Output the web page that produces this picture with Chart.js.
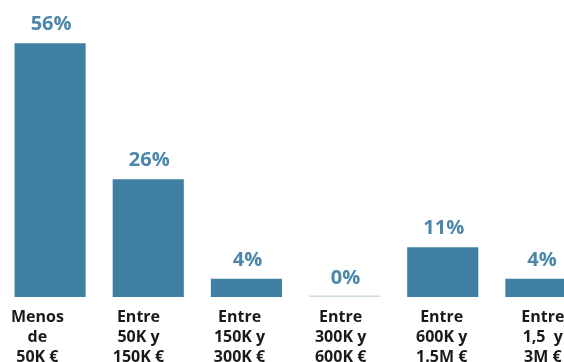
<!DOCTYPE html>
<html>
<head>
<meta charset="utf-8">
<script src="https://cdn.jsdelivr.net/npm/chart.js@4"></script>
<style>
  html, body { margin: 0; padding: 0; background: #ffffff; overflow: hidden; }
  #wrap { width: 564px; height: 362px; overflow: hidden; position: relative; }
  #box { width: 590px; height: 377px; position: absolute; left: 0; top: 0; }
</style>
</head>
<body>
<div id="wrap"><div id="box"><canvas id="c"></canvas></div></div>
<script>
// Revenue brackets (multi-line tick labels) and share of companies in each
const categories = [
  ['Menos', 'de', '50K €'],
  ['Entre', '50K y', '150K €'],
  ['Entre', '150K y', '300K €'],
  ['Entre', '300K y', '600K €'],
  ['Entre', '600K y', '1.5M €'],
  ['Entre', '1,5  y', '3M €']
];
const shares = [56, 26, 4, 0, 11, 4];
const valueLabels = ['56%', '26%', '4%', '0%', '11%', '4%'];

const BAR = '#3e7fa2';
const ZERO_BAR = '#cfdde6';
const LABEL = '#4a87ab';
const FONT = '"Open Sans", "Noto Sans", sans-serif';

// Writes each percentage above its bar
const valueLabelPlugin = {
  id: 'valueLabels',
  afterDatasetsDraw(chart) {
    const ctx = chart.ctx;
    const meta = chart.getDatasetMeta(0);
    ctx.save();
    ctx.fillStyle = LABEL;
    ctx.font = 'bold 20px ' + FONT;
    ctx.textAlign = 'center';
    ctx.textBaseline = 'alphabetic';
    meta.data.forEach((bar, i) => {
      const top = chart.scales.y.getPixelForValue(shares[i]);
      ctx.fillText(valueLabels[i], bar.x + 1, top - 13);
    });
    ctx.restore();
  }
};

new Chart(document.getElementById('c'), {
  type: 'bar',
  data: {
    labels: categories,
    datasets: [{
      data: shares,
      xAxisID: 'x',
      backgroundColor: shares.map(v => v === 0 ? ZERO_BAR : BAR),
      minBarLength: 1.5,
      categoryPercentage: 0.9,
      barPercentage: 0.805,
      borderWidth: 0
    }]
  },
  options: {
    responsive: true,
    maintainAspectRatio: false,
    animation: false,
    layout: { padding: { top: 25, left: 1, right: 0, bottom: 0 } },
    plugins: { legend: { display: false }, tooltip: { enabled: false } },
    scales: {
      // category axis that places the bars
      x: {
        display: false
      },
      // label axis: one tick per bracket, spread slightly wider than the bars
      labelAxis: {
        type: 'linear',
        position: 'bottom',
        offset: false,
        bounds: 'data',
        min: -0.36,
        max: 5.467,
        afterBuildTicks(scale) {
          scale.ticks = categories.map((_, i) => ({ value: i }));
        },
        grid: { display: false, drawTicks: false, offset: false },
        border: { display: false },
        ticks: {
          color: '#1a1a1a',
          font: { family: FONT, size: 16, weight: 'bold', lineHeight: 1.25 },
          padding: 10,
          maxRotation: 0,
          autoSkip: false,
          includeBounds: false,
          callback: (v) => categories[v] || ''
        }
      },
      y: {
        display: false,
        min: 0,
        max: 60
      }
    }
  },
  plugins: [valueLabelPlugin]
});
</script>
</body>
</html>
